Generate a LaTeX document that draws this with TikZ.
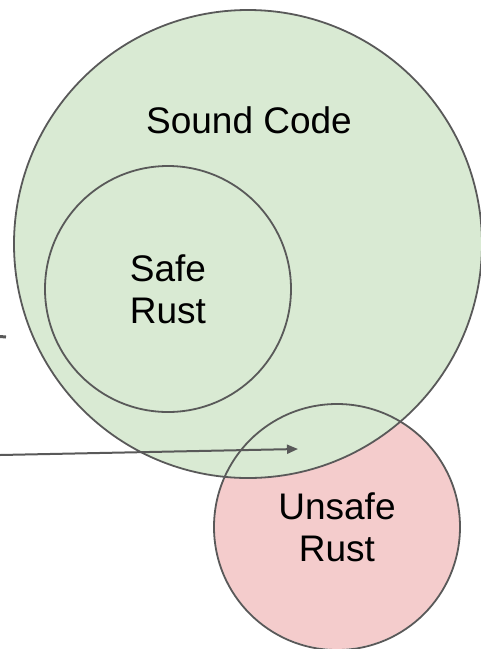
\documentclass[tikz,border=0pt]{standalone}
\usepackage{fontspec}
\setmainfont{Liberation Sans}
\usetikzlibrary{arrows.meta}
\definecolor{soundfill}{HTML}{D9EAD3}
\definecolor{unsafefill}{HTML}{F4CCCC}
\definecolor{edge}{HTML}{595959}
\begin{document}
\begin{tikzpicture}[x=1pt,y=-1pt,
  setcircle/.style={circle, inner sep=0pt, outer sep=0pt, draw=edge, line width=1.8pt},
  lbl/.style={font=\fontsize{37}{42}\selectfont, align=center, text=black},
  conn/.style={draw=edge, line width=2pt}]
\useasboundingbox (0,0) rectangle (481,649);
% red fill of unsafe set (beneath the green)
\node[circle, inner sep=0pt, minimum size=246pt, fill=unsafefill] (unsafebg) at (337,526) {};
% sound code
\node[setcircle, minimum size=468pt, fill=soundfill] (sound) at (248,244) {};
\node[lbl] (soundlbl) at (249,120) {Sound Code};
% safe rust
\node[setcircle, minimum size=246pt, lbl] (safe) at (168,289) {Safe\\Rust};
% unsafe rust outline
\node[setcircle, minimum size=246pt, lbl] (unsafe) at (337,527) {Unsafe\\Rust};
% arrows
\coordinate (a0) at (0,455);
\coordinate (a1) at (298,449);
\draw[conn, -{Triangle[length=11pt,width=9pt]}] (a0) -- (a1);
\coordinate (m0) at (0,336.5);
\coordinate (m1) at (6,337);
\draw[conn, line width=3pt] (m0) -- (m1);
\end{tikzpicture}
\end{document}
